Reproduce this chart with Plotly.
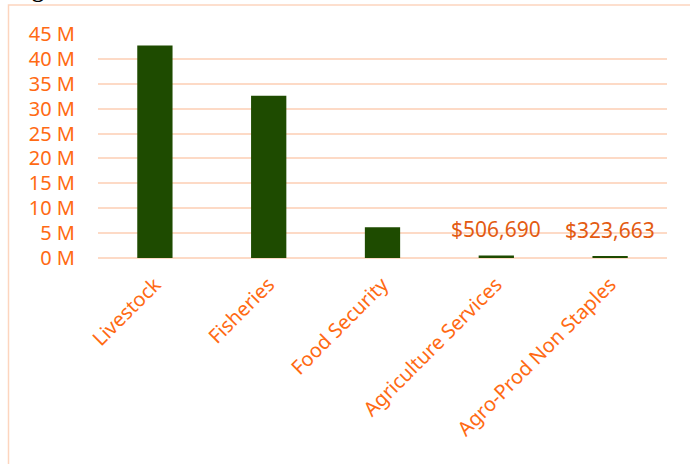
import plotly.graph_objects as go

categories = ["Livestock", "Fisheries", "Food Security", "Agriculture Services", "Agro-Prod Non Staples"]
values = [42700000, 32600000, 6200000, 506690, 323663]
label_texts = ["", "", "", "$506,690", "$323,663"]
tick_vals = [0, 5e6, 10e6, 15e6, 20e6, 25e6, 30e6, 35e6, 40e6, 45e6]
tick_text = ["0 M", "5 M", "10 M", "15 M", "20 M", "25 M", "30 M", "35 M", "40 M", "45 M"]

orange = "#FF6A13"
grid = "#FDDAC6"
font_family = "Noto Sans"

fig = go.Figure()
fig.add_trace(go.Bar(x=categories, y=values, marker=dict(color="#1E4B00", line=dict(width=0)),
                     hoverinfo="skip"))

for c, v, t in zip(categories, values, label_texts):
    if t:
        fig.add_annotation(x=c, y=v, text=t, showarrow=False, yanchor="bottom", yshift=10,
                           font=dict(family=font_family, size=21, color="#E35B12"))

L, R, T, B = 98, 23, 34, 206
W, H = 690, 464
pw, ph = W - L - R, H - T - B
fig.add_shape(type="rect", xref="paper", yref="paper",
              x0=(8.5 - L) / pw, x1=(720 - L) / pw,
              y0=(H - 500 - B) / ph, y1=(H - 5 - B) / ph,
              line=dict(color="#FDD5BE", width=1.5), fillcolor="rgba(0,0,0,0)", layer="below")

fig.add_annotation(xref="paper", yref="paper", x=(30 - L) / pw, y=(H - 4 - B) / ph,
                   text="<b>g</b>", showarrow=False, xanchor="left", yanchor="bottom",
                   font=dict(family="Liberation Serif", size=24, color="black"))

fig.update_layout(
    width=W, height=H,
    margin=dict(l=L, r=R, t=T, b=B),
    paper_bgcolor="white", plot_bgcolor="white",
    bargap=0.69, showlegend=False,
    font=dict(family=font_family, color=orange),
    xaxis=dict(tickangle=-45, tickfont=dict(size=20, color=orange), showgrid=False,
               showline=False, ticks="", fixedrange=True, ticklabelstandoff=10),
    yaxis=dict(range=[0, 45e6], tickvals=tick_vals, ticktext=tick_text,
               tickfont=dict(size=20, color=orange), gridcolor=grid, gridwidth=1.5,
               zeroline=True, zerolinecolor=grid, zerolinewidth=1.5, showline=False,
               ticks="", ticklen=0, fixedrange=True, ticklabelstandoff=22),
)
fig.write_html("out.html")
